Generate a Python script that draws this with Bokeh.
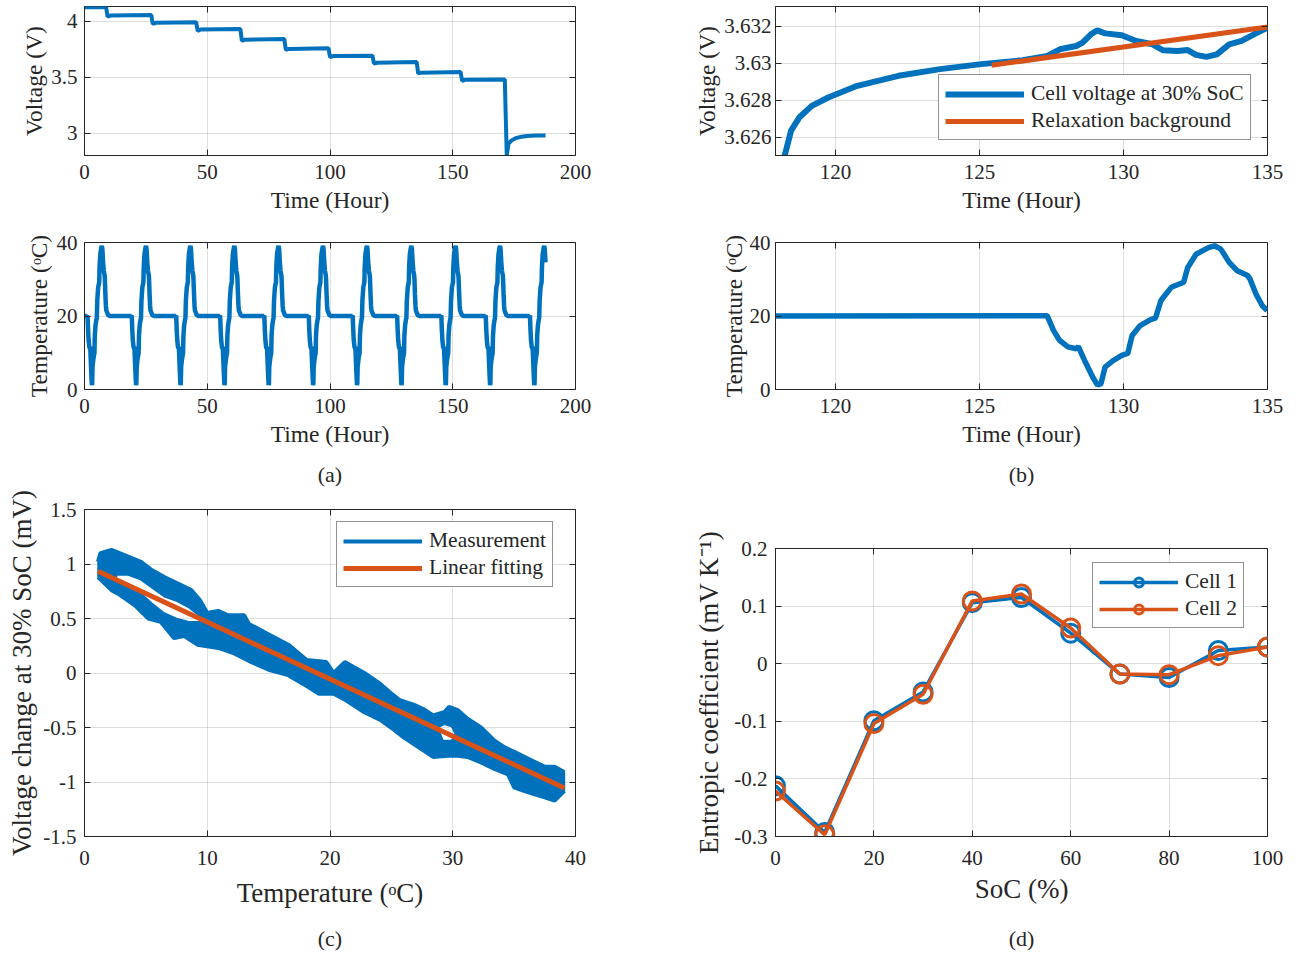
from bokeh.plotting import figure
from bokeh.models import (Range1d, FixedTicker, CustomJSTickFormatter, Legend,
                          LegendItem, LinearAxis)
from bokeh.layouts import column, row
from bokeh.embed import file_html
from bokeh.resources import INLINE

BLUE = "#0072BD"
ORANGE = "#D95319"
INK = "#262626"
FONT = "Liberation Serif"

# ---------------- data ----------------
# (a) top: cell voltage over the whole test
volt_t = [0, 8.8, 9.4, 10.5, 27.2, 27.8, 29.0, 45.5, 46.1, 47.3, 63.5, 64.1, 65.3,
          81.4, 82.0, 83.2, 99.4, 100.0, 101.2, 117.3, 117.9, 119.1, 135.3, 135.9,
          137.1, 153.2, 153.8, 155.0, 171.2, 172.0, 172.7, 174.0, 175.6, 178.0,
          180.3, 184.0, 187.8]
volt_v = [4.125, 4.125, 4.040, 4.050, 4.055, 3.975, 3.985, 3.990, 3.912, 3.925,
          3.930, 3.825, 3.835, 3.840, 3.745, 3.752, 3.758, 3.680, 3.688, 3.692,
          3.622, 3.628, 3.636, 3.535, 3.540, 3.545, 3.468, 3.476, 3.480, 2.800,
          2.905, 2.935, 2.955, 2.967, 2.975, 2.978, 2.978]

# (a) bottom: one temperature cycle (hours relative to the cold minimum) and the
# times of the minima of the repeated cycles
cycle_dt = [-1.9, -1.75, -1.53, -1.32, -1.03, -0.74, -0.67, -0.45, -0.17, 0.0,
            0.12, 0.26, 0.55, 0.84, 1.05, 1.20, 1.48, 1.84, 2.01, 2.20, 2.56,
            2.99, 3.13, 3.42, 3.85, 4.06, 4.28, 4.57, 4.85, 5.21, 5.29, 5.50,
            5.72, 5.89, 6.6, 7.2]
cycle_T = [20.0, 20.1, 16.1, 13.4, 11.6, 11.1, 11.7, 7.9, 3.4, 1.2, 1.6, 6.1,
           7.9, 9.3, 9.8, 14.7, 17.4, 19.0, 19.4, 24.2, 27.8, 29.2, 33.2, 36.8,
           38.6, 39.1, 38.2, 34.6, 32.3, 31.0, 30.1, 26.0, 22.8, 21.5, 20.3, 20.0]
cycle_min_t = [3.0, 21.0, 39.1, 57.0, 75.0, 93.1, 111.0, 129.1, 147.1, 165.2, 183.2]
test_end_t = 188.0

# (b) top: voltage at 30% SoC and relaxation background
relax_t = [118.15, 118.24, 118.46, 118.75, 119.18, 119.75, 120.76, 122.19, 123.63,
           125.06, 126.50, 127.36, 127.79, 128.36, 128.58, 128.87, 129.08, 129.37,
           129.94, 130.44, 131.01, 131.37, 131.88, 132.23, 132.52, 132.88, 133.24,
           133.67, 134.10, 134.53, 134.99]
relax_v = [3.6248, 3.62502, 3.62636, 3.62708, 3.62770, 3.62815, 3.62878, 3.62932,
           3.62968, 3.62995, 3.63016, 3.63039, 3.63075, 3.63093, 3.63111, 3.63156,
           3.63177, 3.63161, 3.63151, 3.63120, 3.63102, 3.63070, 3.63066, 3.63071,
           3.63045, 3.63034, 3.63048, 3.63102, 3.63120, 3.63156, 3.63191]
bg_t = [125.42, 135.0]
bg_v = [3.62989, 3.63195]

# (b) bottom: temperature during the same window
bt_t = [117.9, 127.35, 127.57, 127.78, 128.07, 128.36, 128.43, 128.65, 128.93,
        129.10, 129.22, 129.36, 129.65, 129.94, 130.15, 130.30, 130.58, 130.94,
        131.11, 131.30, 131.66, 132.09, 132.23, 132.52, 132.95, 133.16, 133.38,
        133.67, 133.95, 134.31, 134.39, 134.60, 134.82, 134.99]
bt_T = [20.0, 20.1, 16.1, 13.4, 11.6, 11.1, 11.7, 7.9, 3.4, 1.2, 1.6, 6.1, 7.9,
        9.3, 9.8, 14.7, 17.4, 19.0, 19.4, 24.2, 27.8, 29.2, 33.2, 36.8, 38.6,
        39.1, 38.2, 34.6, 32.3, 31.0, 30.1, 26.0, 22.8, 21.5]

# (c) measurement band (upper edge, lower edge) and gaps inside it
band_top_T = [1.1, 1.3, 2.2, 3.3, 4.6, 5.4, 6.5, 7.6, 8.7, 9.4, 10.0, 10.9, 11.7,
              13.0, 13.4, 14.9, 16.6, 18.1, 19.7, 20.3, 21.2, 22.8, 24.1, 24.9,
              25.7, 26.8, 27.6, 28.4, 29.3, 29.7, 30.4, 31.2, 32.3, 33.4, 34.2,
              35.3, 36.4, 37.5, 38.3, 39.1]
band_top_V = [1.02, 1.10, 1.13, 1.08, 1.02, 0.95, 0.88, 0.82, 0.76, 0.67, 0.55,
              0.57, 0.53, 0.53, 0.45, 0.36, 0.26, 0.12, 0.10, 0.0, 0.10, 0.0,
              -0.10, -0.18, -0.25, -0.29, -0.33, -0.39, -0.36, -0.31, -0.34,
              -0.42, -0.50, -0.62, -0.68, -0.74, -0.80, -0.86, -0.86, -0.91]
band_bot_T = [39.1, 38.3, 37.5, 36.6, 35.5, 35.0, 34.5, 33.4, 32.3, 31.2, 30.4,
              29.6, 28.4, 27.6, 26.8, 26.0, 25.2, 24.1, 22.8, 21.3, 20.3, 19.1,
              18.1, 16.6, 15.0, 13.6, 12.2, 10.9, 9.2, 8.1, 7.3, 6.2, 5.2, 4.1,
              2.7, 2.2, 1.1]
band_bot_V = [-1.08, -1.17, -1.14, -1.11, -1.07, -1.05, -0.93, -0.88, -0.82,
              -0.77, -0.76, -0.76, -0.77, -0.71, -0.65, -0.59, -0.52, -0.43,
              -0.36, -0.25, -0.19, -0.19, -0.12, -0.02, 0.03, 0.10, 0.18, 0.23,
              0.26, 0.34, 0.32, 0.47, 0.50, 0.62, 0.73, 0.76, 0.88]
gap1_T = [2.6, 3.5, 4.5, 5.5, 6.5, 7.5, 8.5, 9.4, 9.4, 8.5, 7.5, 6.5, 5.5, 4.5, 3.5, 2.6]
gap1_V = [0.90, 0.90, 0.86, 0.78, 0.70, 0.66, 0.60, 0.52, 0.47, 0.47, 0.50, 0.55,
          0.64, 0.74, 0.80, 0.86]
gap2_T = [28.8, 29.3, 29.9, 30.2, 29.9, 29.2]
gap2_V = [-0.50, -0.47, -0.49, -0.56, -0.62, -0.62]
fit_T = [1.1, 39.1]
fit_V = [0.934, -1.056]

# (d) entropic coefficient vs SoC
soc = [0, 10, 20, 30, 40, 50, 60, 70, 80, 90, 100]
cell1 = [-0.212, -0.293, -0.099, -0.049, 0.106, 0.115, 0.053, -0.018, -0.024, 0.023, 0.029]
cell2 = [-0.221, -0.297, -0.104, -0.053, 0.109, 0.121, 0.062, -0.018, -0.019, 0.014, 0.029]

# full temperature trace for (a) bottom, assembled from the read cycle
temp_t = [0.0]
temp_T = [20.0]
for tm in cycle_min_t:
    for dt, T in zip(cycle_dt, cycle_T):
        if tm + dt <= test_end_t:
            temp_t.append(round(tm + dt, 2))
            temp_T.append(T)

# ---------------- styling helpers ----------------
FMT_CODE = "return String(Math.round(tick*10000)/10000);"
TICK_SIZE = "21px"


def make_fig(w, h, xr, yr, ml, mr, mt, mb):
    p = figure(width=w, height=h, x_range=Range1d(*xr), y_range=Range1d(*yr),
               output_backend="svg", toolbar_location=None,
               min_border_left=ml, min_border_right=mr,
               min_border_top=mt, min_border_bottom=mb)
    p.background_fill_color = "white"
    p.border_fill_color = "white"
    p.outline_line_color = INK
    p.outline_line_width = 1
    return p


def style(p, xticks, yticks, xlabel, ylabel, lab_size="23.5px",
          xls=9, xas=5, yls=7, yas=1):
    for ax, ticks, lab, ls, las in ((p.xaxis[0], xticks, xlabel, xls, xas),
                                    (p.yaxis[0], yticks, ylabel, yls, yas)):
        ax.ticker = FixedTicker(ticks=ticks, minor_ticks=[])
        ax.formatter = CustomJSTickFormatter(code=FMT_CODE)
        ax.major_tick_in = 6
        ax.major_tick_out = 0
        ax.minor_tick_line_color = None
        ax.axis_line_color = INK
        ax.major_tick_line_color = INK
        ax.major_label_text_font = FONT
        ax.major_label_text_font_size = TICK_SIZE
        ax.major_label_text_color = INK
        ax.major_label_standoff = ls
        ax.axis_label = lab
        ax.axis_label_text_font = FONT
        ax.axis_label_text_font_style = "normal"
        ax.axis_label_text_font_size = lab_size
        ax.axis_label_text_color = INK
        ax.axis_label_standoff = las
    p.xgrid.ticker = p.xaxis[0].ticker
    p.ygrid.ticker = p.yaxis[0].ticker
    p.grid.grid_line_color = INK
    p.grid.grid_line_alpha = 0.15
    p.grid.grid_line_width = 1
    # mirrored ticks on top and right (box on)
    for side, ticks in (("above", xticks), ("right", yticks)):
        ax = LinearAxis(ticker=FixedTicker(ticks=ticks, minor_ticks=[]))
        ax.major_tick_in = 6
        ax.major_tick_out = 0
        ax.minor_tick_line_color = None
        ax.axis_line_color = None
        ax.major_tick_line_color = INK
        ax.major_label_text_font_size = "0px"
        ax.major_label_text_color = None
        ax.major_label_standoff = 0
        p.add_layout(ax, side)


def legend(p, items, x, y):
    lg = Legend(items=items, location=(x, y), padding=6, spacing=2,
                glyph_height=22, label_height=22, glyph_width=79,
                label_standoff=7, margin=0,
                border_line_color=INK, border_line_width=1,
                background_fill_color="white", background_fill_alpha=1,
                label_text_font=FONT, label_text_font_size="21.5px",
                label_text_color=INK)
    p.add_layout(lg, "center")


def panel_tag(p, text, standoff):
    ax = LinearAxis(ticker=FixedTicker(ticks=[], minor_ticks=[]), axis_label=text)
    ax.axis_line_color = None
    ax.major_tick_line_color = None
    ax.minor_tick_line_color = None
    ax.major_tick_in = 0
    ax.major_tick_out = 0
    ax.major_label_standoff = 0
    ax.major_label_text_font_size = "0px"
    ax.axis_label_text_font = FONT
    ax.axis_label_text_font_style = "normal"
    ax.axis_label_text_font_size = "22px"
    ax.axis_label_text_color = INK
    ax.axis_label_standoff = standoff
    p.add_layout(ax, "below")


WL, WR = 668, 630

# (a) top
pa1 = make_fig(WL, 222, (0, 200), (2.8, 4.131), 84, 93, 6, 67)
pa1.line(volt_t, volt_v, line_color=BLUE, line_width=4)
style(pa1, [0, 50, 100, 150, 200], [3, 3.5, 4], "Time (Hour)", "Voltage (V)")

# (b) top
pb1 = make_fig(WR, 222, (117.92, 135), (3.62502, 3.63306), 107, 31, 6, 67)
rb = pb1.line(relax_t, relax_v, line_color=BLUE, line_width=6)
ro = pb1.line(bg_t, bg_v, line_color=ORANGE, line_width=5)
style(pb1, [120, 125, 130, 135], [3.626, 3.628, 3.63, 3.632], "Time (Hour)",
      "Voltage (V)", yls=4, yas=1)
legend(pb1, [LegendItem(label="Cell voltage at 30% SoC", renderers=[rb]),
             LegendItem(label="Relaxation background", renderers=[ro])], 163, 15)

# (a) bottom
pa2 = make_fig(WL, 268, (0, 200), (0, 40), 84, 93, 20, 101)
pa2.line(temp_t, temp_T, line_color=BLUE, line_width=4.5)
style(pa2, [0, 50, 100, 150, 200], [0, 20, 40], "Time (Hour)", "Temperature (ᵒC)",
      yas=2)
panel_tag(pa2, "(a)", 12)

# (b) bottom
pb2 = make_fig(WR, 268, (117.92, 135), (0, 40), 107, 31, 20, 101)
pb2.line(bt_t, bt_T, line_color=BLUE, line_width=5.5)
style(pb2, [120, 125, 130, 135], [0, 20, 40], "Time (Hour)", "Temperature (ᵒC)",
      yls=5, yas=0)
panel_tag(pb2, "(b)", 12)

# (c)
pc = make_fig(WL, 464, (0, 40), (-1.5, 1.5), 84, 93, 19, 118)
band_xs = [[[band_top_T + band_bot_T, gap1_T, gap2_T]]]
band_ys = [[[band_top_V + band_bot_V, gap1_V, gap2_V]]]
pc.multi_polygons(xs=band_xs, ys=band_ys, fill_color=BLUE, line_color=BLUE,
                  line_width=1.5)
meas = pc.line(band_top_T, band_top_V, line_color=BLUE, line_width=4)
pc.line(band_bot_T, band_bot_V, line_color=BLUE, line_width=4)
fit = pc.line(fit_T, fit_V, line_color=ORANGE, line_width=5)
style(pc, [0, 10, 20, 30, 40], [-1.5, -1, -0.5, 0, 0.5, 1, 1.5],
      "Temperature (ᵒC)", "Voltage change at 30% SoC (mV)", lab_size="27px",
      xls=14, xas=10, yls=8, yas=3)
legend(pc, [LegendItem(label="Measurement", renderers=[meas]),
            LegendItem(label="Linear fitting", renderers=[fit])], 252, 249)
panel_tag(pc, "(c)", 15)

# (d)
pd = make_fig(WR, 464, (0, 100), (-0.3, 0.2), 107, 31, 58, 118)
l1 = pd.line(soc, cell1, line_color=BLUE, line_width=3.5)
s1 = pd.scatter(soc, cell1, marker="circle", size=18, line_color=BLUE,
                line_width=3, fill_color=None)
l2 = pd.line(soc, cell2, line_color=ORANGE, line_width=3.5)
s2 = pd.scatter(soc, cell2, marker="circle", size=18, line_color=ORANGE,
                line_width=3, fill_color=None)
style(pd, [0, 20, 40, 60, 80, 100], [-0.3, -0.2, -0.1, 0, 0.1, 0.2],
      "SoC (%)", "Entropic coefficient (mV K⁻¹)", lab_size="27px",
      xls=14, xas=6, yls=8, yas=7)
legend(pd, [LegendItem(label="Cell 1", renderers=[l1, s1]),
            LegendItem(label="Cell 2", renderers=[l2, s2])], 317, 208)
panel_tag(pd, "(d)", 19)

layout = row(column(pa1, pa2, pc, spacing=0), column(pb1, pb2, pd, spacing=0),
             spacing=0)

open("out.html", "w").write(file_html(layout, INLINE))
